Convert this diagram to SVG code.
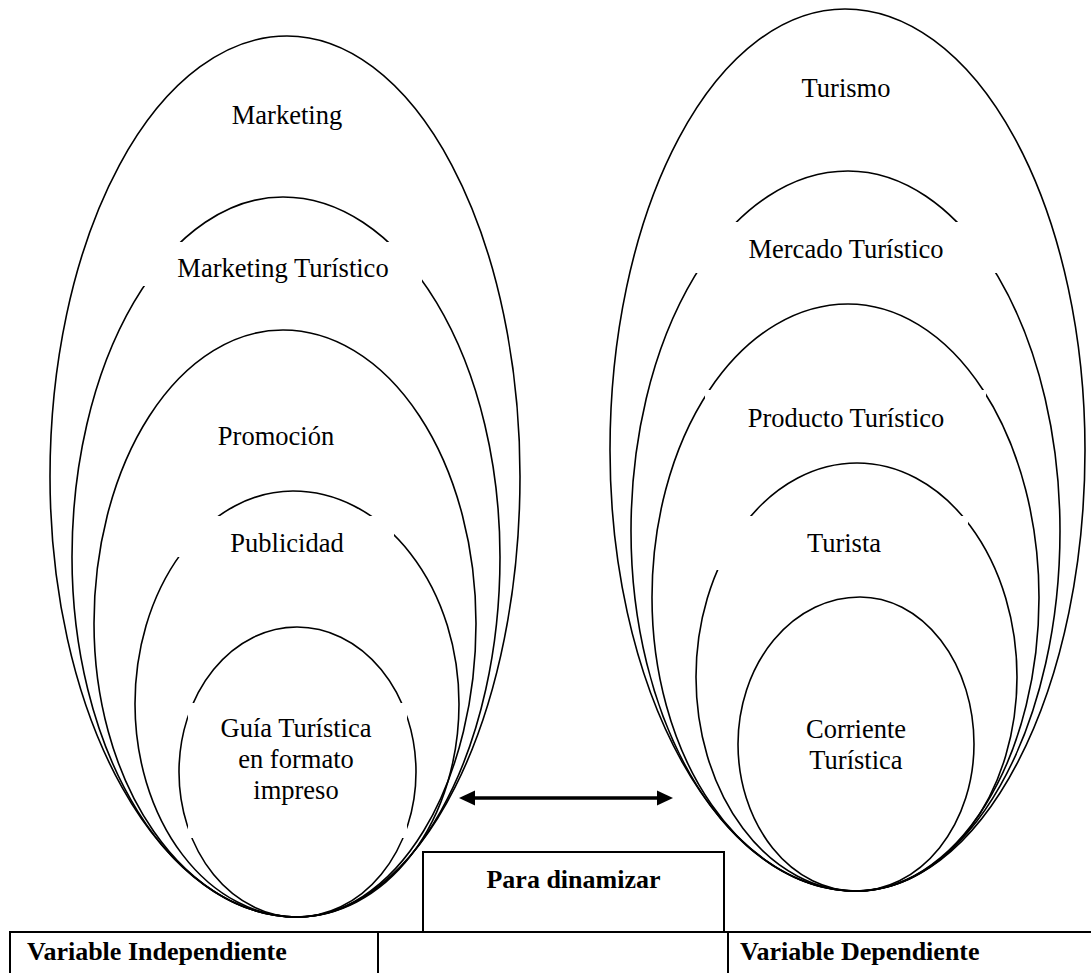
<svg xmlns="http://www.w3.org/2000/svg" width="1091" height="973" viewBox="0 0 1091 973">
<style>
.ring{fill:none;stroke:#000;stroke-width:1.6}
.bg{fill:#fff;stroke:none}
.lbl{font-family:"Liberation Serif","Times New Roman",serif;font-size:26.5px;fill:#000;text-anchor:middle}
.bold{font-family:"Liberation Serif","Times New Roman",serif;font-size:26px;font-weight:bold;fill:#000}
.tbl{fill:none;stroke:#000;stroke-width:2}
</style>
<defs>
<marker id="head" viewBox="0 0 16 16" markerUnits="userSpaceOnUse" markerWidth="16" markerHeight="16" refX="8" refY="8" orient="auto-start-reverse">
<path d="M0,0.5 L16,8 L0,15.5 z" fill="#000"/>
</marker>
</defs>
<rect width="1091" height="973" fill="#fff"/>

<!-- Left group: Variable Independiente -->
<g id="marketing">
<path class="ring" d="M287,36 A237,440.5 0 0 0 50,476.5 A247,440.5 0 0 0 297,917 A223,440.5 0 0 0 520,476.5 A233,440.5 0 0 0 287,36 Z"/>
<text class="lbl" x="287" y="124">Marketing</text>
</g>
<g id="marketing-turistico">
<path class="ring" d="M283,197 A211,360 0 0 0 72,557 A225,360 0 0 0 297,917 A203,360 0 0 0 500,557 A217,360 0 0 0 283,197 Z"/>
<rect class="bg" x="135" y="242" width="287" height="44"/>
<text class="lbl" x="283" y="277">Marketing Turístico</text>
</g>
<g id="promocion">
<path class="ring" d="M283,330 A189,293.5 0 0 0 94,623.5 A203,293.5 0 0 0 297,917 A179,293.5 0 0 0 476,623.5 A193,293.5 0 0 0 283,330 Z"/>
<text class="lbl" x="276" y="445">Promoción</text>
</g>
<g id="publicidad">
<path class="ring" d="M293,491 A158,213 0 0 0 135,704 A162,213 0 0 0 297,917 A162,213 0 0 0 459,704 A166,213 0 0 0 293,491 Z"/>
<rect class="bg" x="170" y="516" width="224" height="41"/>
<text class="lbl" x="287" y="552">Publicidad</text>
</g>
<g id="guia-turistica">
<path class="ring" d="M297,627 A118,145 0 0 0 179,772 A118,145 0 0 0 297,917 A119,145 0 0 0 416,772 A119,145 0 0 0 297,627 Z"/>
<rect class="bg" x="188" y="703" width="219" height="135"/>
<text class="lbl" x="296" y="737">Guía Turística</text>
<text class="lbl" x="296" y="768">en formato</text>
<text class="lbl" x="296" y="799">impreso</text>
</g>

<!-- Right group: Variable Dependiente -->
<g id="turismo">
<path class="ring" d="M845,9 A235,441 0 0 0 610,450 A246,441 0 0 0 856,891 A229,441 0 0 0 1085,450 A240,441 0 0 0 845,9 Z"/>
<text class="lbl" x="846" y="97">Turismo</text>
</g>
<g id="mercado-turistico">
<path class="ring" d="M848,171 A217,360 0 0 0 631,531 A225,360 0 0 0 856,891 A204,360 0 0 0 1060,531 A212,360 0 0 0 848,171 Z"/>
<rect class="bg" x="685" y="222" width="320" height="51"/>
<text class="lbl" x="846" y="258">Mercado Turístico</text>
</g>
<g id="producto-turistico">
<path class="ring" d="M848,304 A196,293.5 0 0 0 652,597.5 A204,293.5 0 0 0 856,891 A183,293.5 0 0 0 1039,597.5 A191,293.5 0 0 0 848,304 Z"/>
<rect class="bg" x="705" y="390" width="281" height="50"/>
<text class="lbl" x="846" y="427">Producto Turístico</text>
</g>
<g id="turista">
<path class="ring" d="M857,463 A161,214 0 0 0 696,677 A160,214 0 0 0 856,891 A161,214 0 0 0 1017,677 A160,214 0 0 0 857,463 Z"/>
<rect class="bg" x="705" y="516" width="263" height="54"/>
<text class="lbl" x="844" y="552">Turista</text>
</g>
<g id="corriente-turistica">
<path class="ring" d="M860,597 A122,147 0 0 0 738,744 A118,147 0 0 0 856,891 A118,147 0 0 0 974,744 A114,147 0 0 0 860,597 Z"/>
<text class="lbl" x="856" y="738">Corriente</text>
<text class="lbl" x="856" y="769">Turística</text>
</g>

<!-- Connectors -->
<g id="connectors">
<line x1="467" y1="798" x2="665" y2="798" stroke="#000" stroke-width="3.5" marker-start="url(#head)" marker-end="url(#head)"/>
</g>

<g id="para-dinamizar">
<rect x="423" y="852" width="301" height="80" fill="#fff" stroke="#000" stroke-width="2"/>
<text class="bold" x="573.5" y="888" text-anchor="middle">Para dinamizar</text>
</g>

<g id="table">
<line class="tbl" x1="9" y1="932" x2="1091" y2="932"/>
<line class="tbl" x1="10" y1="931" x2="10" y2="973"/>
<line class="tbl" x1="378" y1="932" x2="378" y2="973"/>
<line class="tbl" x1="728" y1="932" x2="728" y2="973"/>
<text class="bold" x="27" y="960">Variable Independiente</text>
<text class="bold" x="740" y="960">Variable Dependiente</text>
</g>
</svg>
